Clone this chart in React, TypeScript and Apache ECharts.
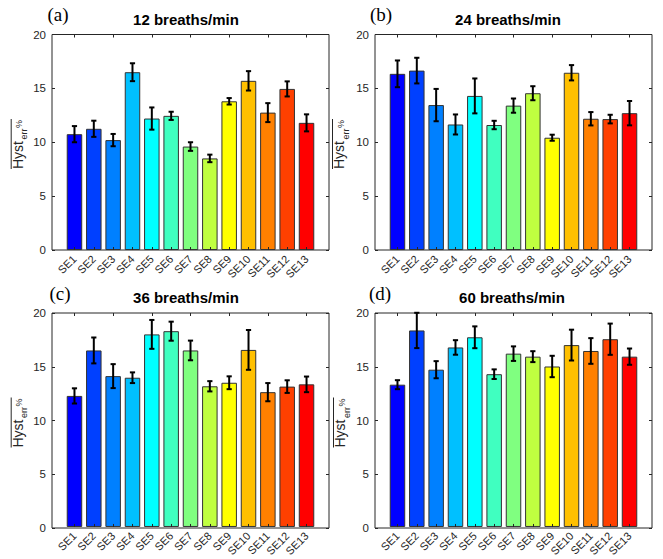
import React, { useEffect, useRef } from "react";
import * as echarts from "echarts";

const categories = ["SE1", "SE2", "SE3", "SE4", "SE5", "SE6", "SE7", "SE8", "SE9", "SE10", "SE11", "SE12", "SE13"];
const barColors = ["#0000ff", "#0040ff", "#0080ff", "#00c0ff", "#00ffff", "#40ffc0", "#80ff80", "#c0ff40", "#ffff00", "#ffc000", "#ff8000", "#ff4000", "#ff0000"];

const mean12 = [10.75, 11.25, 10.2, 16.5, 12.2, 12.45, 9.6, 8.5, 13.8, 15.7, 12.75, 14.95, 11.8];
const err12 = [0.75, 0.75, 0.57, 0.83, 1.03, 0.38, 0.4, 0.35, 0.3, 0.9, 0.88, 0.7, 0.79];
const mean24 = [16.35, 16.65, 13.45, 11.65, 14.3, 11.6, 13.4, 14.55, 10.42, 16.45, 12.18, 12.15, 12.7];
const err24 = [1.24, 1.19, 1.5, 0.93, 1.62, 0.39, 0.66, 0.65, 0.28, 0.71, 0.62, 0.4, 1.13];
const mean36 = [12.25, 16.5, 14.1, 13.95, 18.0, 18.3, 16.5, 13.15, 13.48, 16.55, 12.6, 13.12, 13.33];
const err36 = [0.71, 1.21, 1.12, 0.5, 1.35, 0.89, 0.92, 0.48, 0.6, 1.86, 0.85, 0.59, 0.73];
const mean60 = [13.3, 18.37, 14.7, 16.78, 17.73, 14.28, 16.2, 15.92, 15.0, 17.0, 16.45, 17.55, 15.92];
const err60 = [0.42, 1.65, 0.8, 0.68, 1.02, 0.45, 0.68, 0.51, 1.0, 1.44, 1.2, 1.46, 0.76];

const panelTitles = ["12 breaths/min", "24 breaths/min", "36 breaths/min", "60 breaths/min"];
const panelLetters = ["(a)", "(b)", "(c)", "(d)"];
const yTicks = { min: 0, max: 20, interval: 5 };

const FONT = "'Liberation Sans', Arial, Helvetica, sans-serif";
const SERIF = "'Liberation Serif', 'Times New Roman', serif";
const AX = "#262626";

// layout (pixels)
const frames = [
  { left: 52, top: 34.5, width: 277, height: 215.5, titleX: 186, titleY: 19.5, letterX: 58, letterY: 14, ylX: 22.7, ylY: 169 },
  { left: 375, top: 34.5, width: 277, height: 215.5, titleX: 508, titleY: 19.5, letterX: 381, letterY: 14, ylX: 344, ylY: 169 },
  { left: 52, top: 313, width: 277, height: 215, titleX: 186, titleY: 297.5, letterX: 60, letterY: 293, ylX: 22.7, ylY: 447.5 },
  { left: 375, top: 313, width: 277, height: 215, titleX: 512, titleY: 297.5, letterX: 380, letterY: 293, ylX: 345, ylY: 447.5 },
];
const sidePad = 12.8;

const means = [mean12, mean24, mean36, mean60];
const errs = [err12, err24, err36, err60];

function yLabel(x: number, y: number) {
  return {
    type: "group",
    x,
    y,
    rotation: Math.PI / 2,
    children: [
      { type: "text", x: 0, y: -5, style: { text: "Hyst", font: `14px ${FONT}`, fill: AX, align: "left", verticalAlign: "middle" } },
      { type: "text", x: 29.5, y: 1.5, style: { text: "err", font: `9px ${FONT}`, fill: AX, align: "left", verticalAlign: "middle" } },
      { type: "text", x: 41, y: -3.5, style: { text: "%", font: `9px ${FONT}`, fill: AX, align: "left", verticalAlign: "middle" } },
      { type: "line", shape: { x1: 0, y1: -11.5, x2: 50, y2: -11.5 }, style: { stroke: AX, lineWidth: 1 } },
    ],
  };
}

export default function App() {
  const ref = useRef<HTMLDivElement>(null);
  useEffect(() => {
    if (!ref.current) return;
    const chart = echarts.init(ref.current, null, { renderer: "svg" });
    const grid: any[] = [];
    const xAxis: any[] = [];
    const yAxis: any[] = [];
    const series: any[] = [];
    const graphic: any[] = [];
    frames.forEach((f, p) => {
      grid.push({ left: f.left, top: f.top, width: f.width, height: f.height, show: true, borderColor: AX, borderWidth: 1, backgroundColor: "transparent", containLabel: false });
      grid.push({ left: f.left + sidePad, top: f.top, width: f.width - 2 * sidePad, height: f.height, containLabel: false });
      // x axes
      xAxis.push({ gridIndex: 2 * p, type: "value", show: false, min: 0, max: 1 });
      xAxis.push({
        gridIndex: 2 * p + 1, type: "category", data: categories, position: "bottom", z: 10,
        axisLine: { show: false },
        axisTick: { show: true, inside: true, length: 3, alignWithLabel: true, lineStyle: { color: AX } },
        axisLabel: { rotate: 45, margin: 7, fontSize: 11, fontFamily: FONT, color: AX, interval: 0 },
      });
      xAxis.push({
        gridIndex: 2 * p + 1, type: "category", data: categories, position: "top", z: 10,
        axisLine: { show: false },
        axisTick: { show: true, inside: true, length: 3, alignWithLabel: true, lineStyle: { color: AX } },
        axisLabel: { show: false },
      });
      // y axes
      yAxis.push({
        gridIndex: 2 * p, type: "value", position: "left", min: yTicks.min, max: yTicks.max, interval: yTicks.interval, z: 10,
        axisLine: { show: false }, splitLine: { show: false },
        axisTick: { show: true, inside: true, length: 3, lineStyle: { color: AX } },
        axisLabel: { fontSize: 11.5, fontFamily: FONT, color: AX, margin: 6 },
      });
      yAxis.push({
        gridIndex: 2 * p, type: "value", position: "right", min: yTicks.min, max: yTicks.max, interval: yTicks.interval, z: 10,
        axisLine: { show: false }, splitLine: { show: false },
        axisTick: { show: true, inside: true, length: 3, lineStyle: { color: AX } },
        axisLabel: { show: false },
      });
      yAxis.push({ gridIndex: 2 * p + 1, type: "value", min: yTicks.min, max: yTicks.max, show: false, splitLine: { show: false } });

      const m = means[p];
      const e = errs[p];
      series.push({
        type: "bar", xAxisIndex: 3 * p + 1, yAxisIndex: 3 * p + 2, barWidth: 15.5,
        data: m.map((v, i) => ({ value: v, itemStyle: { color: barColors[i] } })),
        itemStyle: { borderColor: "#333333", borderWidth: 1 },
      });
      series.push({
        type: "custom", xAxisIndex: 3 * p + 1, yAxisIndex: 3 * p + 2, z: 6,
        data: m.map((v, i) => [i, v, e[i]]),
        renderItem: (params: any, api: any) => {
          const i = api.value(0);
          const v = api.value(1);
          const er = api.value(2);
          const top = api.coord([i, v + er]);
          const bot = api.coord([i, v - er]);
          const cw = 2.6;
          const st = { stroke: "#000", lineWidth: 2 };
          return {
            type: "group",
            children: [
              { type: "line", shape: { x1: top[0], y1: top[1], x2: bot[0], y2: bot[1] }, style: st },
              { type: "line", shape: { x1: top[0] - cw, y1: top[1], x2: top[0] + cw, y2: top[1] }, style: st },
              { type: "line", shape: { x1: bot[0] - cw, y1: bot[1], x2: bot[0] + cw, y2: bot[1] }, style: st },
            ],
          };
        },
      });

      graphic.push({ type: "text", x: f.titleX, y: f.titleY, style: { text: panelTitles[p], font: `bold 15px ${FONT}`, fill: "#000", align: "center", verticalAlign: "middle" } });
      graphic.push({ type: "text", x: f.letterX, y: f.letterY, style: { text: panelLetters[p], font: `19px ${SERIF}`, fill: "#000", align: "center", verticalAlign: "middle" } });
      graphic.push(yLabel(f.ylX, f.ylY));
    });

    chart.setOption({
      animation: false,
      backgroundColor: "#ffffff",
      grid,
      xAxis,
      yAxis,
      series,
      graphic,
    });
    return () => chart.dispose();
  }, []);
  return <div ref={ref} style={{ position: "absolute", left: 0, top: 0, width: 663, height: 559, background: "#fff" }} />;
}
